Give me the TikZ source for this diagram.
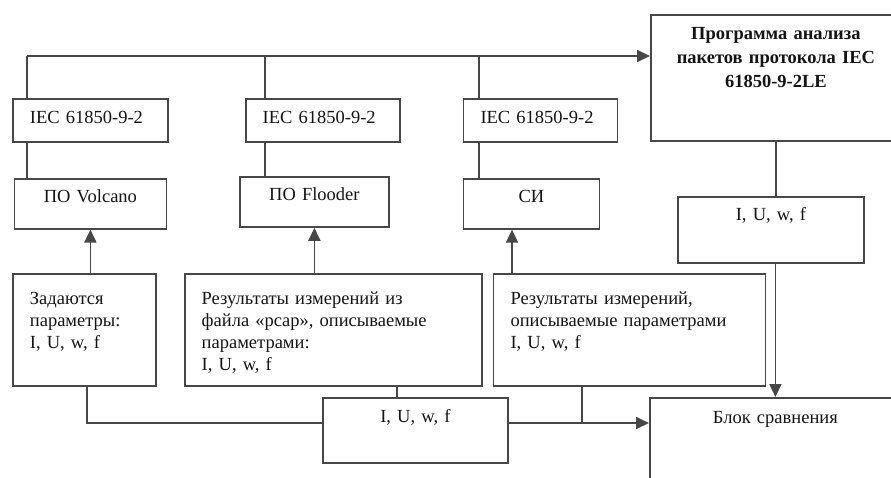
\documentclass[tikz,border=0pt]{standalone}
\usepackage{fontspec}
\setmainfont{Liberation Serif}
\usetikzlibrary{arrows.meta,positioning}
\definecolor{linegray}{HTML}{474747}
\definecolor{textgray}{HTML}{141414}

\begin{document}
\begin{tikzpicture}[
  x=1pt, y=-1pt,
  node distance = 35pt and 76pt,
  base/.style = {
    rectangle,
    draw=linegray,
    line width=1.8pt,
    inner xsep=17pt,
    inner ysep=0pt,
    text=textgray,
    text width=#1,
    font=\fontsize{18.5}{22}\selectfont
  },
  box/.style = {base=#1, align=left, text height=25pt},
  cbox/.style = {base=#1, align=center, text height=24pt},
  ln/.style = {draw=linegray, line width=1.8pt},
  arr/.style = {ln, -{Triangle[length=13pt,width=12pt]}},
  ]
  \path[use as bounding box, clip] (0,0) rectangle (891,477);

  % upper row
  \node[box=121pt, text depth=18pt, anchor=north west] (iec1) at (12,98) {IEC 61850-9-2};
  \node[box=120pt, text depth=18pt, right=76pt of iec1] (iec2) {IEC 61850-9-2};
  \node[box=120pt, text depth=18pt, right=62pt of iec2] (iec3) {IEC 61850-9-2};
  \node[cbox=118pt, text depth=26pt, below=of iec1] (volcano) {ПО Volcano};
  \node[cbox=115pt, text depth=26pt, anchor=north west] (flooder) at (239,176) {ПО Flooder};
  \node[cbox=102pt, text depth=26pt, below=of iec3.south west, anchor=north west] (si) {СИ};
  \node[cbox=216pt, text height=25pt, text depth=101pt, anchor=north west,
        font=\fontsize{18.5}{24}\selectfont\bfseries] (prog) at (650,14)
        {Программа анализа\\пакетов протокола IEC\\61850-9-2LE};
  \node[cbox=152pt, text depth=42pt, anchor=north west] (iuwf1) at (677,196) {I, U, w, f};

  % lower row
  \node[box=109pt, text height=31pt, text depth=81pt, anchor=north west] (zad) at (12,273)
        {Задаются\\параметры:\\I, U, w, f};
  \node[box=263pt, text height=31pt, text depth=81pt, right=27pt of zad.north east, anchor=north west] (res1)
        {Результаты измерений из\\файла «pcap», описываемые\\параметрами:\\I, U, w, f};
  \node[box=238pt, text height=31pt, text depth=81pt, right=10pt of res1.north east, anchor=north west] (res2)
        {Результаты измерений,\\описываемые параметрами\\I, U, w, f};
  \node[cbox=151pt, text height=25pt, text depth=40pt, anchor=north west] (iuwf2) at (322,397) {I, U, w, f};
  \node[cbox=217pt, text height=26pt, text depth=80pt, anchor=north west] (blok) at (649,397) {Блок сравнения};

  % bus
  \coordinate (b1) at (27,56);
  \coordinate (b2) at (265,56);
  \coordinate (b3) at (479,56);
  \draw[arr] (b1) -- (b1 -| prog.west);
  \foreach \b/\i/\m in {b1/iec1/volcano, b2/iec2/flooder, b3/iec3/si} {
    \draw[ln] (\b) -- (\b |- \i.north);
    \draw[ln] (\b |- \i.south) -- (\b |- \m.north);
  }

  % inputs
  \coordinate (u3) at (512,273);
  \draw[arr] (volcano.south |- zad.north) -- (volcano.south);
  \draw[arr] (flooder.south |- res1.north) -- (flooder.south);
  \draw[arr] (u3) -- (u3 |- si.south);

  % to comparison
  \coordinate (jn) at (87,423);
  \coordinate (d1) at (397,423);
  \coordinate (d2) at (582,423);
  \draw[ln] (jn |- zad.south) -- (jn) -- (jn -| iuwf2.west);
  \draw[ln] (d1 |- res1.south) -- (d1 |- iuwf2.north);
  \draw[arr] (jn -| iuwf2.east) -- (jn -| blok.west);
  \draw[ln] (d2 |- res2.south) -- (d2);
  \draw[ln] (prog.south) -- (prog.south |- iuwf1.north);
  \draw[arr] (iuwf1.south -| blok.north) -- (blok.north);
\end{tikzpicture}
\end{document}
